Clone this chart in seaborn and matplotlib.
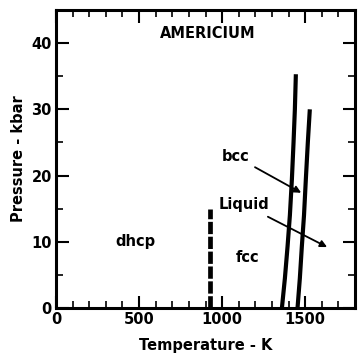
import matplotlib
matplotlib.use("Agg")
import matplotlib.pyplot as plt
import seaborn as sns
import pandas as pd
from matplotlib.ticker import MultipleLocator

sns.set_theme(style="ticks")
plt.rcParams['font.family'] = ['DejaVu Sans']
plt.rcParams.update({"text.color": "black", "axes.labelcolor": "black",
                     "xtick.color": "black", "ytick.color": "black",
                     "axes.edgecolor": "black"})

# Phase boundaries (Temperature K, Pressure kbar)
dhcp_fcc_T = [925, 925]
dhcp_fcc_P = [0, 15]
fcc_bcc_T = [1360, 1378, 1394, 1408, 1420, 1430, 1438, 1444]
fcc_bcc_P = [0, 4.5, 9.3, 14, 19.4, 25, 30, 35.3]
melt_T = [1454, 1468, 1480, 1493, 1504, 1516, 1528]
melt_P = [0, 4.5, 9.3, 14, 19.4, 25, 30]

x_ticks = [0, 500, 1000, 1500]
y_ticks = [0, 10, 20, 30, 40]

fig = plt.figure(figsize=(3.58, 3.61), dpi=100)
ax = fig.add_axes([56/358, 53/361, 299/358, 298/361])

d1 = pd.DataFrame({"T": dhcp_fcc_T, "P": dhcp_fcc_P})
d2 = pd.DataFrame({"T": fcc_bcc_T, "P": fcc_bcc_P})
d3 = pd.DataFrame({"T": melt_T, "P": melt_P})

sns.lineplot(data=d1, x="T", y="P", sort=False, estimator=None, ax=ax,
             color="black", lw=3.4)
ax.lines[-1].set_linestyle((0, (2.6, 0.55)))
ax.lines[-1].set_dash_capstyle("butt")
sns.lineplot(data=d2, x="T", y="P", sort=False, estimator=None, ax=ax,
             color="black", lw=3.0)
sns.lineplot(data=d3, x="T", y="P", sort=False, estimator=None, ax=ax,
             color="black", lw=3.0)
for ln in ax.lines:
    ln.set_solid_capstyle("butt")

ax.set_xlim(0, 1800)
ax.set_ylim(0, 45)
ax.set_xticks(x_ticks)
ax.set_yticks(y_ticks)
ax.xaxis.set_minor_locator(MultipleLocator(100))
ax.yaxis.set_minor_locator(MultipleLocator(5))
ax.tick_params(which="major", direction="in", length=9, width=1.5,
               top=True, right=True, labelsize=10.5, pad=3)
ax.tick_params(which="minor", direction="in", length=5, width=1.2,
               top=True, right=True)
for lab in ax.get_xticklabels() + ax.get_yticklabels():
    lab.set_fontweight("bold")
for s in ax.spines.values():
    s.set_linewidth(2.2)

ax.set_xlabel("Temperature - K", fontsize=10.5, fontweight="bold", labelpad=8)
ax.set_ylabel("Pressure - kbar", fontsize=10.5, fontweight="bold", labelpad=4)

ax.text(912, 41.4, "AMERICIUM", ha="center", va="center", fontsize=10.5, fontweight="bold")
ax.text(480, 10, "dhcp", ha="center", va="center", fontsize=10.5, fontweight="bold")
ax.text(1152, 7.7, "fcc", ha="center", va="center", fontsize=10.5, fontweight="bold")

ax.annotate("bcc", xy=(1476, 17.4), xytext=(1080, 22.9), ha="center", va="center",
            fontsize=10.5, fontweight="bold",
            arrowprops=dict(arrowstyle="-|>", color="black", lw=1.3,
                            shrinkA=2, shrinkB=0, mutation_scale=10))
ax.annotate("Liquid", xy=(1632, 9.2), xytext=(1134, 15.6), ha="center", va="center",
            fontsize=10.5, fontweight="bold",
            arrowprops=dict(arrowstyle="-|>", color="black", lw=1.3,
                            shrinkA=2, shrinkB=0, mutation_scale=10))

fig.savefig("out.png", dpi=100)
